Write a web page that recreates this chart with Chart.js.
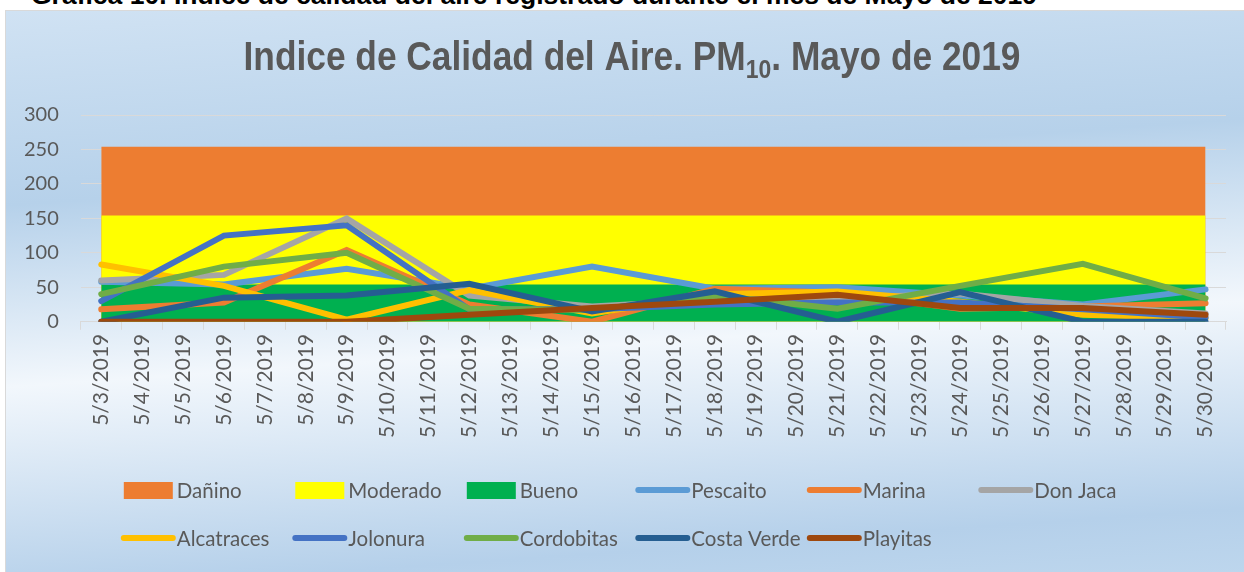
<!DOCTYPE html>
<html>
<head>
<meta charset="utf-8">
<script src="https://cdn.jsdelivr.net/npm/chart.js@4.4.1/dist/chart.umd.min.js"></script>
<style>
  html, body { margin: 0; padding: 0; background: #fff; width: 1244px; height: 572px; overflow: hidden; }
  #caption {
    position: absolute; left: 31px; top: -18px; white-space: nowrap;
    font: bold 26.5px "Liberation Sans", Arial, sans-serif; line-height: 26px; color: #000;
  }
  #frame {
    position: absolute; left: 5px; top: 10px; width: 1239px; height: 562px;
    border-left: 1px solid #d9d9d9; border-top: 1px solid #d9d9d9;
    background: linear-gradient(176deg, #d0e2f3 0%, #b6d1ea 30%, #f2f7fc 58%, #b5d0ea 90%, #bdd6ed 100%);
  }
  #myChart { display: block; }
</style>
</head>
<body>
<div id="caption">Gráfica 10. Índice de calidad del aire registrado durante el mes de Mayo de 2019</div>
<div id="frame"><canvas id="myChart" width="1238" height="561"></canvas></div>
<script>
// fechas del eje x (5/3 a 5/30)
var dias = [3, 4, 5, 6, 7, 8, 9, 10, 11, 12, 13, 14, 15, 16, 17, 18, 19, 20, 21, 22, 23, 24, 25, 26, 27, 28, 29, 30];
var etiquetas = dias.map(function (d) { return "5/" + d + "/2019"; });

// dias con muestreo (cada 3 dias)
var diasMuestreo = [3, 6, 9, 12, 15, 18, 21, 24, 27, 30];

// rangos del indice
var rangos = ["Dañino", "Moderado", "Bueno"];
var limites = [254, 154, 54];
var coloresRangos = ["#ed7d31", "#ffff00", "#00b050"];

// estaciones
var estaciones = ["Pescaito", "Marina", "Don Jaca", "Alcatraces", "Jolonura", "Cordobitas", "Costa Verde", "Playitas"];
var coloresEstaciones = ["#5b9bd5", "#ed7d31", "#a5a5a5", "#ffc000", "#4472c4", "#70ad47", "#255e91", "#9e480e"];

var pescaito   = [58, 54, 77, 48, 80, 48, 50, 38, 25, 47];
var marina     = [18, 28, 104, 25, 0, 48, 42, 19, 22, 27];
var donJaca    = [60, 68, 150, 38, 22, 32, 34, 41, 23, 12];
var alcatraces = [83, 52, 3, 46, 12, 40, 44, 29, 10, 5];
var jolonura   = [30, 125, 140, 18, 18, 25, 28, 28, 18, 6];
var cordobitas = [40, 80, 100, 19, 17, 38, 19, 52, 84, 34];
var costaVerde = [0, 35, 38, 55, 15, 44, 0, 43, 0, 0];
var playitas   = [0, 0, 0, 10, 20, 29, 39, 20, 20, 10];
var valores = [pescaito, marina, donJaca, alcatraces, jolonura, cordobitas, costaVerde, playitas];

var ticksY = [0, 50, 100, 150, 200, 250, 300];

var fuente = "Lato, 'Open Sans', sans-serif";
var gris = "#595959";

// colocar los valores de muestreo en su fecha
function serie(vals) {
  return dias.map(function (d) {
    var i = diasMuestreo.indexOf(d);
    return i >= 0 ? vals[i] : null;
  });
}

var datasets = [];
rangos.forEach(function (r, i) {
  datasets.push({
    label: r,
    data: dias.map(function () { return limites[i]; }),
    backgroundColor: coloresRangos[i],
    borderColor: coloresRangos[i],
    borderWidth: 0,
    pointRadius: 0,
    fill: "origin",
    order: 100 + (rangos.length - i)
  });
});
estaciones.forEach(function (e, i) {
  datasets.push({
    label: e,
    data: serie(valores[i]),
    borderColor: coloresEstaciones[i],
    backgroundColor: coloresEstaciones[i],
    borderWidth: 6,
    borderCapStyle: "round",
    pointRadius: 0,
    spanGaps: true,
    fill: false,
    tension: 0,
    order: estaciones.length - i
  });
});

// titulo con subindice
var tituloPlugin = {
  id: "tituloSub",
  afterDraw: function (chart) {
    var ctx = chart.ctx;
    var partes = [
      { t: "Indice de Calidad del Aire. PM", f: "bold 40px 'Liberation Sans Narrow', 'Liberation Sans', Arial", dy: 0 },
      { t: "10", f: "bold 26px 'Liberation Sans Narrow', 'Liberation Sans', Arial", dy: 8 },
      { t: ". Mayo de 2019", f: "bold 40px 'Liberation Sans Narrow', 'Liberation Sans', Arial", dy: 0 }
    ];
    ctx.save();
    var total = 0;
    partes.forEach(function (p) { ctx.font = p.f; p.w = ctx.measureText(p.t).width; total += p.w; });
    var escala = Math.min(1, 777 / total);
    var cx = chart.width / 2 + 7;
    var y = 59;
    ctx.translate(cx - (total * escala) / 2, y);
    ctx.scale(escala, 1);
    ctx.fillStyle = gris;
    ctx.textBaseline = "alphabetic";
    var x = 0;
    partes.forEach(function (p) {
      ctx.font = p.f;
      ctx.fillText(p.t, x, p.dy);
      x += p.w;
    });
    ctx.restore();
  }
};

// leyenda en columnas como la de Excel
var leyendaPlugin = {
  id: "leyendaColumnas",
  afterDraw: function (chart) {
    var ctx = chart.ctx;
    var items = [];
    rangos.forEach(function (r, i) { items.push({ t: r, c: coloresRangos[i], box: true }); });
    estaciones.forEach(function (e, i) { items.push({ t: e, c: coloresEstaciones[i], box: false }); });
    var x0 = chart.chartArea.left + 43;
    var anchoCol = 171.5;
    var filas = [479, 527];
    ctx.save();
    ctx.font = "20.5px " + fuente;
    ctx.textBaseline = "middle";
    items.forEach(function (it, k) {
      var col = k % 6, fila = Math.floor(k / 6);
      var x = x0 + col * anchoCol;
      var y = filas[fila];
      if (it.box) {
        ctx.fillStyle = it.c;
        ctx.fillRect(x, y - 8, 49, 17);
      } else {
        ctx.strokeStyle = it.c;
        ctx.lineWidth = 6;
        ctx.lineCap = "round";
        ctx.beginPath();
        ctx.moveTo(x, y);
        ctx.lineTo(x + 49, y);
        ctx.stroke();
      }
      ctx.fillStyle = gris;
      ctx.fillText(it.t, x + 53, y + 1);
    });
    ctx.restore();
  }
};

var ctx = document.getElementById("myChart").getContext("2d");
var chart = new Chart(ctx, {
  type: "line",
  data: { labels: etiquetas, datasets: datasets },
  options: {
    responsive: false,
    animation: false,
    layout: { padding: { top: 104, left: -4, right: 18, bottom: 130 } },
    plugins: { legend: { display: false }, tooltip: { enabled: false }, title: { display: false } },
    scales: {
      x: {
        offset: true,
        grid: { offset: true, drawOnChartArea: false, color: "#d9d9d9", tickLength: 8 },
        border: { color: "#d9d9d9" },
        ticks: { color: gris, font: { family: fuente, size: 21 }, minRotation: 90, maxRotation: 90, autoSkip: false, padding: 4 }
      },
      y: {
        min: 0,
        max: 300,
        afterBuildTicks: function (axis) { axis.ticks = ticksY.map(function (v) { return { value: v }; }); },
        grid: { color: "#d9d9d9", drawTicks: false },
        border: { display: false },
        ticks: { color: gris, font: { family: fuente, size: 20 }, padding: 22 }
      }
    }
  },
  plugins: [tituloPlugin, leyendaPlugin]
});
</script>
</body>
</html>
